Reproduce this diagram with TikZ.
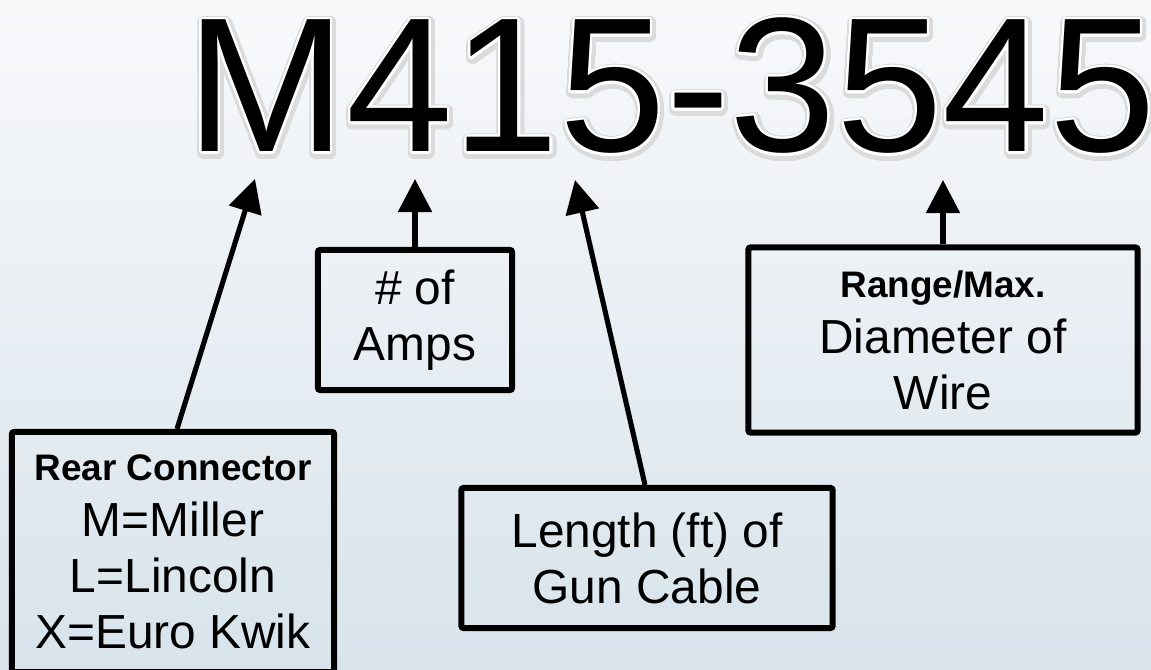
\documentclass[tikz,border=0pt]{standalone}
\usepackage{fontspec}
\setmainfont{Liberation Sans}
\usepackage[copies]{contour}
\usetikzlibrary{arrows.meta}
\definecolor{bgtop}{RGB}{248,249,251}
\definecolor{bgbot}{RGB}{216,227,235}
\contournumber{48}

\begin{document}
\begin{tikzpicture}[x=0.01cm,y=-0.01cm,
  infobox/.style={draw=black,line width=1.7pt,rounded corners=0.6pt,align=center,
    font=\fontsize{13.6pt}{15.9pt}\selectfont,inner sep=0pt},
  hint/.style={line width=1.45pt,-{Triangle[length=9.4pt,width=9.4pt]}},
  titletext/.style={anchor=base west,inner sep=0pt,font=\fontsize{54.5pt}{60pt}\selectfont}]
% background, cropped at the frame
\useasboundingbox (0,0) rectangle (1151,670);
\clip (0,0) rectangle (1151,670);
\shade[top color=bgtop,bottom color=bgbot] (0,0) rectangle (1151,670);
% the part number, with a soft halo
\node[titletext,text=black!14] (codeglow) at (187,154) {\contourlength{1.5pt}\contour{black!14}{M415-3545}};
\node[titletext] (code) at (186,152) {\contourlength{0.6pt}\contour{white}{M415-3545}};
% the four fields
\node[infobox,minimum width=3.22cm,minimum height=2.40cm] (conn) at (173,552)
  {{\bfseries\fontsize{10.5pt}{12pt}\selectfont Rear Connector}\\ M=Miller\\ L=Lincoln\\ X=Euro Kwik};
\node[infobox,minimum width=1.94cm,minimum height=1.40cm] (amps) at (415,320) {\# of\\ Amps};
\node[infobox,minimum width=3.71cm,minimum height=1.40cm] (cable) at (647,558) {Length (ft) of\\ Gun Cable};
\node[infobox,minimum width=3.89cm,minimum height=1.85cm] (wire) at (943,340)
  {{\bfseries\fontsize{10.5pt}{12pt}\selectfont Range/Max.}\\ Diameter of\\ Wire};
% arrow tips under the characters
\coordinate (tipM) at (255,179);
\coordinate (tipA) at (415,179);
\coordinate (tipL) at (575,180);
\coordinate (tipW) at (943,180);
\draw[hint] ([xshift=0.04cm]conn.north) -- (tipM);
\draw[hint] (amps.north) -- (tipA);
\draw[hint] ([xshift=-0.02cm]cable.north) -- (tipL);
\draw[hint] (wire.north) -- (tipW);
\end{tikzpicture}
\end{document}
